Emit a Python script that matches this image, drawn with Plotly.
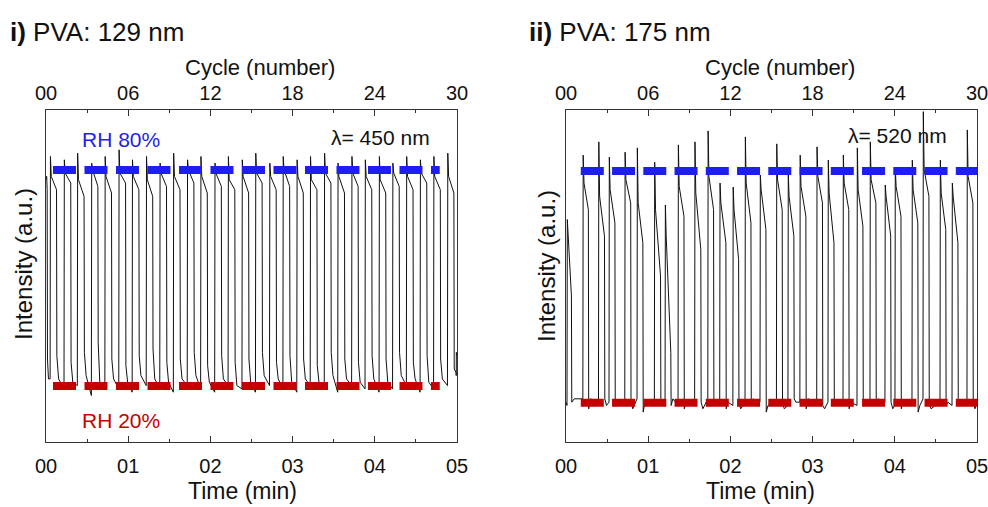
import plotly.graph_objects as go

# ------------------------------------------------------------------ data
time_ticks = [0, 1, 2, 3, 4, 5]
time_ticktext = ["00", "01", "02", "03", "04", "05"]
time_minor = [0.5, 1.5, 2.5, 3.5, 4.5]
cycle_ticks = [0, 6, 12, 18, 24, 30]
cycle_ticktext = ["00", "06", "12", "18", "24", "30"]
cycle_minor = [3, 9, 15, 21, 27]

# reference humidity levels (normalised intensity, a.u.)
rh80_L, rh20_L = 0.819, 0.169
rh80_R, rh20_R = 0.816, 0.118
rh_span_L = [0.085, 4.79]
rh_span_R = [0.18, 5.0]

# ---- panel i) PVA 129 nm, lambda 450 nm
init_t_L = [0.0, 0.008, 0.014, 0.018, 0.030]
init_v_L = [0.79, 0.80, 0.76, 0.25, 0.19]
rise_L = [0.050, 0.219, 0.381, 0.552, 0.716, 0.885, 1.048, 1.219, 1.384, 1.549,
          1.718, 1.881, 2.052, 2.215, 2.384, 2.548, 2.719, 2.882, 3.051, 3.214,
          3.385, 3.549, 3.718, 3.881, 4.052, 4.216, 4.384, 4.551, 4.715, 4.884]
fall_L = [0.128, 0.301, 0.463, 0.631, 0.797, 0.968, 1.130, 1.298, 1.466, 1.630,
          1.799, 1.962, 2.133, 2.297, 2.465, 2.629, 2.800, 2.964, 3.130, 3.296,
          3.466, 3.631, 3.797, 3.963, 4.133, 4.297, 4.465, 4.632, 4.797, 4.962]
peak_L = [0.86, 0.85, 0.87, 0.84, 0.86, 0.88, 0.85, 0.86, 0.84, 0.87,
          0.85, 0.86, 0.84, 0.86, 0.85, 0.87, 0.84, 0.86, 0.85, 0.86,
          0.87, 0.84, 0.86, 0.85, 0.86, 0.84, 0.86, 0.85, 0.86, 0.87]
mid_L = [0.80, 0.81, 0.79, 0.82, 0.80, 0.81, 0.80, 0.79, 0.81, 0.80,
         0.82, 0.80, 0.81, 0.79, 0.80, 0.81, 0.80, 0.82, 0.80, 0.79,
         0.81, 0.80, 0.81, 0.80, 0.79, 0.81, 0.80, 0.81, 0.80, 0.80]
end_L = [0.76, 0.78, 0.74, 0.77, 0.75, 0.78, 0.76, 0.74, 0.77, 0.76,
         0.78, 0.75, 0.77, 0.76, 0.75, 0.78, 0.76, 0.77, 0.75, 0.76,
         0.78, 0.75, 0.77, 0.76, 0.75, 0.77, 0.76, 0.78, 0.76, 0.75]
lo_s_L = [0.26, 0.24, 0.27, 0.30, 0.25, 0.23, 0.26, 0.28, 0.24, 0.25,
          0.27, 0.23, 0.26, 0.24, 0.25, 0.27, 0.24, 0.26, 0.25, 0.23,
          0.27, 0.25, 0.24, 0.26, 0.25, 0.27, 0.24, 0.26, 0.25, 0.22]
lo_m_L = [0.19, 0.18, 0.20, 0.17, 0.19, 0.18, 0.20, 0.19, 0.18, 0.19,
          0.20, 0.18, 0.19, 0.17, 0.18, 0.20, 0.19, 0.18, 0.19, 0.18,
          0.20, 0.19, 0.18, 0.19, 0.18, 0.20, 0.19, 0.18, 0.19, 0.21]
lo_e_L = [0.16, 0.17, 0.14, 0.18, 0.16, 0.15, 0.17, 0.16, 0.15, 0.17,
          0.16, 0.15, 0.17, 0.16, 0.15, 0.17, 0.16, 0.15, 0.17, 0.16,
          0.15, 0.17, 0.16, 0.15, 0.16, 0.17, 0.15, 0.16, 0.17, 0.20]
fin_t_L = [4.992, 5.0]
fin_v_L = [0.27, 0.26]

# ---- panel ii) PVA 175 nm, lambda 520 nm
init_t_R = [0.0, 0.012, 0.016, 0.040, 0.066, 0.070, 0.100]
init_v_R = [0.12, 0.11, 0.67, 0.55, 0.44, 0.12, 0.13]
rise_R = [0.205, 0.395, 0.523, 0.715, 0.864, 1.075, 1.205, 1.363, 1.565, 1.725,
          1.870, 2.030, 2.178, 2.360, 2.560, 2.700, 2.845, 3.050, 3.187, 3.370,
          3.540, 3.698, 3.880, 4.002, 4.209, 4.343, 4.550, 4.696, 4.878]
fall_R = [0.272, 0.468, 0.595, 0.787, 0.935, 1.150, 1.275, 1.435, 1.640, 1.795,
          1.945, 2.100, 2.250, 2.432, 2.630, 2.772, 2.918, 3.120, 3.260, 3.440,
          3.612, 3.770, 3.950, 4.075, 4.280, 4.415, 4.620, 4.768, 4.950]
peak_R = [0.864, 0.904, 0.858, 0.873, 0.886, 0.843, 0.714, 0.895, 0.904, 0.937,
          0.780, 0.768, 0.919, 0.804, 0.898, 0.810, 0.864, 0.889, 0.849, 0.864,
          0.886, 0.904, 0.774, 0.825, 0.849, 0.995, 0.849, 0.780, 0.940]
mid_R = [0.78, 0.74, 0.76, 0.79, 0.72, 0.70, 0.62, 0.77, 0.75, 0.80,
         0.72, 0.70, 0.78, 0.76, 0.79, 0.74, 0.77, 0.80, 0.75, 0.78,
         0.76, 0.79, 0.74, 0.77, 0.76, 0.82, 0.75, 0.74, 0.80]
end_R = [0.70, 0.62, 0.66, 0.72, 0.60, 0.50, 0.27, 0.68, 0.58, 0.70,
         0.60, 0.55, 0.66, 0.64, 0.70, 0.62, 0.68, 0.72, 0.60, 0.70,
         0.65, 0.72, 0.62, 0.68, 0.66, 0.74, 0.64, 0.60, 0.72]
lo_s_R = [0.10, 0.13, 0.11, 0.12, 0.09, 0.13, 0.11, 0.10, 0.12, 0.13,
          0.10, 0.12, 0.11, 0.09, 0.12, 0.13, 0.10, 0.11, 0.12, 0.10,
          0.13, 0.11, 0.12, 0.10, 0.09, 0.12, 0.11, 0.13, 0.12]
lo_m_R = [0.13, 0.11, 0.12, 0.10, 0.12, 0.11, 0.13, 0.12, 0.10, 0.11,
          0.12, 0.10, 0.13, 0.11, 0.10, 0.12, 0.13, 0.10, 0.11, 0.12,
          0.11, 0.13, 0.10, 0.12, 0.11, 0.10, 0.12, 0.11, 0.10]
lo_e_R = [0.12, 0.12, 0.11, 0.13, 0.12, 0.12, 0.11, 0.12, 0.13, 0.12,
          0.11, 0.12, 0.12, 0.13, 0.11, 0.12, 0.12, 0.12, 0.13, 0.11,
          0.12, 0.12, 0.11, 0.12, 0.13, 0.12, 0.11, 0.12, 0.12]
fin_t_R = [5.0]
fin_v_R = [0.12]


def build(init_t, init_v, rise, fall, peak, mid, end, lo_s, lo_m, lo_e, fin_t, fin_v):
    t = list(init_t)
    v = list(init_v)
    n = len(rise)
    for k in range(n):
        nxt = rise[k + 1] if k + 1 < n else fin_t[0] - 0.001
        t += [rise[k], rise[k] + 0.004, rise[k] + 0.014, fall[k],
              fall[k] + 0.004, fall[k] + 0.025, nxt]
        v += [v[-1], peak[k], mid[k], end[k], lo_s[k], lo_m[k], lo_e[k]]
    t += list(fin_t)
    v += list(fin_v)
    return t, v


tL, vL = build(init_t_L, init_v_L, rise_L, fall_L, peak_L, mid_L, end_L,
               lo_s_L, lo_m_L, lo_e_L, fin_t_L, fin_v_L)
tR, vR = build(init_t_R, init_v_R, rise_R, fall_R, peak_R, mid_R, end_R,
               lo_s_R, lo_m_R, lo_e_R, fin_t_R, fin_v_R)

# ------------------------------------------------------------------ figure
FONT = "Liberation Sans, Arial, Helvetica, sans-serif"
BLUE = "#1e1ef0"
RED = "#c40000"
AX = "#333333"

fig = go.Figure()

for t, v, xa, ya in [(tL, vL, "x", "y"), (tR, vR, "x2", "y2")]:
    fig.add_trace(go.Scatter(x=t, y=v, mode="lines", xaxis=xa, yaxis=ya,
                             line=dict(color="#111111", width=1), hoverinfo="skip"))

for span, lv80, lv20, xa, ya, dash in [(rh_span_L, rh80_L, rh20_L, "x", "y", "23px,8.5px"),
                                       (rh_span_R, rh80_R, rh20_R, "x2", "y2", "23px,8.25px")]:
    fig.add_trace(go.Scatter(x=span, y=[lv80, lv80], mode="lines", xaxis=xa, yaxis=ya,
                             line=dict(color=BLUE, width=8, dash=dash), hoverinfo="skip"))
    fig.add_trace(go.Scatter(x=span, y=[lv20, lv20], mode="lines", xaxis=xa, yaxis=ya,
                             line=dict(color=RED, width=8, dash=dash), hoverinfo="skip"))

# invisible traces so the top (cycle) axes exist
for xa, ya in [("x3", "y"), ("x4", "y2")]:
    fig.add_trace(go.Scatter(x=[0, 30], y=[0.5, 0.5], mode="lines", xaxis=xa, yaxis=ya,
                             line=dict(width=0, color="rgba(0,0,0,0)"), hoverinfo="skip"))

dom_L = [46 / 988, 457 / 988]
dom_R = [566 / 988, 977 / 988]
dom_Y = [1 - 442 / 507, 1 - 110 / 507]


def xbottom(domain, anchor):
    return dict(domain=domain, anchor=anchor, range=[0, 5], tickmode="array",
                tickvals=time_ticks, ticktext=time_ticktext, ticks="inside", ticklen=6,
                tickwidth=1, tickcolor=AX, showline=True, linecolor=AX, linewidth=1,
                showgrid=False, zeroline=False, ticklabelstandoff=6, automargin=False,
                ticklabeloverflow="allow",
                tickfont=dict(family=FONT, size=20, color="#111"),
                minor=dict(tickmode="array", tickvals=time_minor, ticks="inside",
                           ticklen=3, tickcolor=AX, tickwidth=1, showgrid=False))


def xtop(over, anchor):
    return dict(overlaying=over, anchor=anchor, side="top", range=[0, 30], tickmode="array",
                tickvals=cycle_ticks, ticktext=cycle_ticktext, ticks="inside", ticklen=6,
                tickwidth=1, tickcolor=AX, showline=True, linecolor=AX, linewidth=1,
                showgrid=False, zeroline=False, ticklabelstandoff=1, automargin=False,
                ticklabeloverflow="allow",
                tickfont=dict(family=FONT, size=20, color="#111"),
                minor=dict(tickmode="array", tickvals=cycle_minor, ticks="inside",
                           ticklen=3, tickcolor=AX, tickwidth=1, showgrid=False))


def yax(anchor):
    return dict(domain=dom_Y, anchor=anchor, range=[0, 1], showline=True, mirror=True,
                linecolor=AX, linewidth=1, showticklabels=False, ticks="",
                showgrid=False, zeroline=False, automargin=False)


fig.update_layout(
    template="none",
    width=988, height=507, margin=dict(l=0, r=0, t=0, b=0, autoexpand=False),
    paper_bgcolor="white", plot_bgcolor="white", showlegend=False,
    xaxis=xbottom(dom_L, "y"), xaxis2=xbottom(dom_R, "y2"),
    xaxis3=xtop("x", "y"), xaxis4=xtop("x2", "y2"),
    yaxis=yax("x"), yaxis2=yax("x2"),
)


def ann(text, px, py, size, color="#111", xanchor="center", angle=0):
    fig.add_annotation(text=text, x=px / 988, y=1 - py / 507, xref="paper", yref="paper",
                       xanchor=xanchor, yanchor="middle", showarrow=False, textangle=angle,
                       borderpad=0, font=dict(family=FONT, size=size, color=color))


ann("<b>i)</b> PVA: 129 nm", 9, 32, 26, xanchor="left")
ann("<b>ii)</b> PVA: 175 nm", 528, 32, 26, xanchor="left")
ann("Cycle (number)", 260, 67, 22)
ann("Cycle (number)", 780, 67, 22)
ann("Time (min)", 242, 491, 23)
ann("Time (min)", 760, 491, 23)
ann("Intensity (a.u.)", 23, 264, 24, angle=-90)
ann("Intensity (a.u.)", 546, 266, 24, angle=-90)
ann("RH 80%", 81, 139, 21, color=BLUE, xanchor="left")
ann("RH 20%", 81, 420, 21, color=RED, xanchor="left")
ann("λ= 450 nm", 380, 137, 21)
ann("λ= 520 nm", 897, 135, 21)

fig.write_html("out.html")
